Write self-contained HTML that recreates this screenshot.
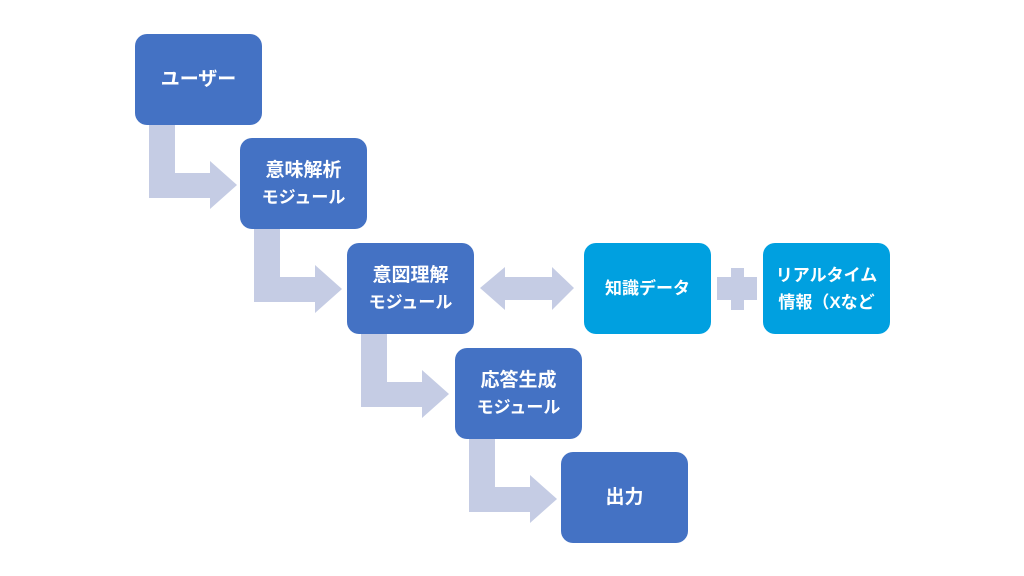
<!DOCTYPE html>
<html><head><meta charset="utf-8"><style>
html,body{margin:0;padding:0;background:#fff;}
.w{position:relative;width:1024px;height:576px;overflow:hidden;font-family:"Liberation Sans","Noto Sans CJK JP",sans-serif;}
.b{position:absolute;width:127px;height:91px;border-radius:12px;background:#4472C4;color:#fff;font-weight:bold;font-size:19px;display:flex;flex-direction:column;justify-content:center;align-items:center;line-height:27px;text-align:center;}
.c{background:#00A0E0;font-size:17px;}
.s{font-size:17px;}
svg{position:absolute;left:0;top:0;}
</style></head><body><div class="w">
<svg width="1024" height="576">
<g fill="#C5CCE4">
<polygon points="149,125 175,125 175,173 210,173 210,161 237,185 210,209 210,198 149,198"/>
<polygon points="254,229 280,229 280,277 315,277 315,265 342,289 315,313 315,302 254,302"/>
<polygon points="361,334 387,334 387,382 422,382 422,370 449,394 422,418 422,407 361,407"/>
<polygon points="469,439 495,439 495,487 530,487 530,475 557,499 530,523 530,512 469,512"/>
<polygon points="480,288 505,267 505,277 552,277 552,267 574,288 552,310 552,300 505,300 505,310"/>
<polygon points="731,268 744,268 744,277 757,277 757,300 744,300 744,310 731,310 731,300 717,300 717,277 731,277"/>
</g>
</svg>
<div class="b" style="left:135px;top:34px">ユーザー</div>
<div class="b" style="left:240px;top:138px"><div>意味解析</div><div class="s">モジュール</div></div>
<div class="b" style="left:347px;top:243px"><div>意図理解</div><div class="s">モジュール</div></div>
<div class="b" style="left:455px;top:348px"><div>応答生成</div><div class="s">モジュール</div></div>
<div class="b" style="left:561px;top:452px">出力</div>
<div class="b c" style="left:584px;top:243px">知識データ</div>
<div class="b c" style="left:763px;top:243px"><div>リアルタイム</div><div>情報（Xなど</div></div>
</div></body></html>
